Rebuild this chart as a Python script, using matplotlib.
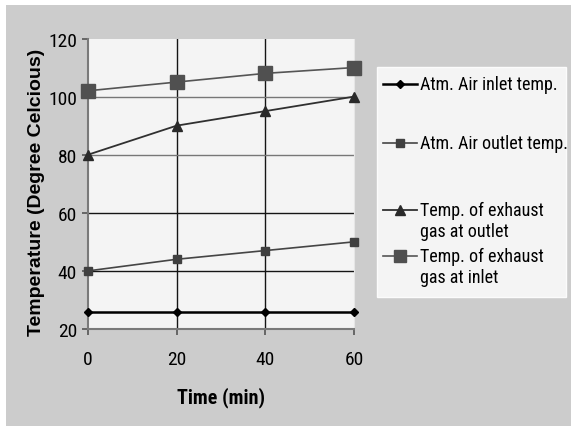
import matplotlib.pyplot as plt
from matplotlib.patches import Rectangle
from matplotlib.lines import Line2D

# data
time_min = [0, 20, 40, 60]
air_inlet = [26, 26, 26, 26]
air_outlet = [40, 44, 47, 50]
exhaust_outlet = [80, 90, 95, 100]
exhaust_inlet = [102, 105, 108, 110]

labels = ["Atm. Air inlet temp.", "Atm. Air outlet temp.",
          "Temp. of exhaust\ngas at outlet", "Temp. of exhaust\ngas at inlet"]
y_ticks = [20, 40, 60, 80, 100, 120]

narrow = ["Roboto Condensed", "PT Sans Narrow", "DejaVu Sans"]
W, H = 571, 427

fig = plt.figure(figsize=(W / 100, H / 100), dpi=100, facecolor="white")
# grey chart area, white strip on top/left
fig.patches.append(Rectangle((6 / W, 0), 1, 1 - 6 / H, transform=fig.transFigure,
                             facecolor="#cccccc", edgecolor="none", zorder=-10))

ax = fig.add_axes([88 / W, 1 - 330 / H, 266 / W, 290.5 / H])
ax.set_facecolor("#f4f4f4")

styles = [
    dict(color="black", marker="D", ms=4.5, lw=1.8, mfc="black", mec="black"),
    dict(color="#454545", marker="s", ms=5.5, lw=1.2, mfc="#404040", mec="#404040"),
    dict(color="#303030", marker="^", ms=7, lw=1.3, mfc="#2a2a2a", mec="#2a2a2a"),
    dict(color="#555555", marker="s", ms=9.5, lw=1.2, mfc="#505050", mec="#505050"),
]
series = [air_inlet, air_outlet, exhaust_outlet, exhaust_inlet]
for vals, st in zip(series, styles):
    ax.plot(time_min, vals, clip_on=False, zorder=3, **st)

ax.set_xlim(0, 60)
ax.set_ylim(20, 120)
ax.set_xticks(time_min)
ax.set_yticks(y_ticks)
ax.grid(True, color="#151515", lw=1.0, zorder=0)
for gl, v in zip(ax.get_ygridlines(), y_ticks):
    if v in (80, 100):
        gl.set_color("#777777")
    if v == 120:
        gl.set_visible(False)
for gl, v in zip(ax.get_xgridlines(), time_min):
    if v in (0, 60):
        gl.set_visible(False)
ax.set_axisbelow(True)

ax.spines["top"].set_visible(False)
ax.spines["right"].set_color("#e6e6e6")
for s in ("left", "bottom"):
    ax.spines[s].set_color("#7a7a7a")
    ax.spines[s].set_linewidth(1.5)
ax.tick_params(axis="both", color="#555555", length=4, width=1.2, direction="out")
ax.tick_params(axis="x", pad=11)
ax.tick_params(axis="y", pad=4)
for lab in ax.get_xticklabels() + ax.get_yticklabels():
    lab.set_family(narrow)
    lab.set_fontsize(14)

ax.set_xlabel("Time (min)", family=narrow, fontweight="bold", fontsize=14.5, labelpad=13)
fig.text(37 / W, 1 - 192 / H, "Temperature (Degree Celcious)",
         family=["Liberation Sans", "DejaVu Sans"], fontweight="bold", fontsize=14,
         rotation=90, ha="center", va="center")

# legend box drawn by hand so each handle sits on the first text line
fig.patches.append(Rectangle((377 / W, 1 - 298 / H), 189 / W, 230 / H,
                             transform=fig.transFigure, facecolor="#f4f4f4",
                             edgecolor="#fbfbfb", lw=1, zorder=1))
entry_y = [85, 144, 211, 257]
line_gap = 21
for lab, y, st in zip(labels, entry_y, styles):
    fig.lines.append(Line2D([383 / W, 417 / W], [1 - y / H, 1 - y / H],
                            transform=fig.transFigure, zorder=2,
                            color=st["color"], lw=st["lw"]))
    ms = st["ms"] * 0.9 if st["ms"] > 8 else st["ms"]
    fig.lines.append(Line2D([400 / W], [1 - y / H], transform=fig.transFigure, zorder=3,
                            marker=st["marker"], ms=ms,
                            mfc=st["mfc"], mec=st["mec"], ls="none"))
    for i, part in enumerate(lab.split("\n")):
        fig.text(420 / W, 1 - (y + i * line_gap) / H, part, family=narrow,
                 fontsize=13, va="center", ha="left", zorder=4)

fig.savefig("out.png", dpi=100, facecolor=fig.get_facecolor())
